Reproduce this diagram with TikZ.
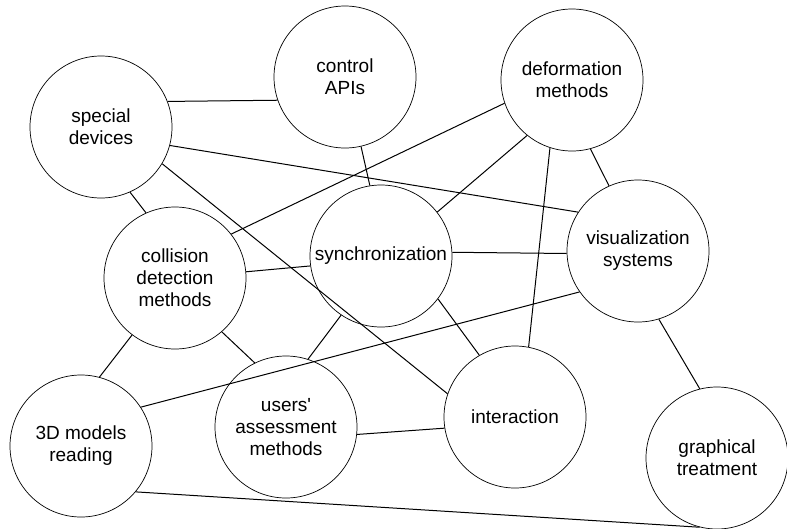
\documentclass[tikz,border=0pt]{standalone}
\usepackage{fontspec}
\setmainfont{Liberation Sans}
\usetikzlibrary{positioning}
\tikzset{>=stealth}
\tikzset{topic/.style={draw,circle,line width=0.7pt,minimum size=142pt,inner sep=0pt,align=center,font=\fontsize{19}{22}\selectfont}}
\tikzset{link/.style={line width=1pt}}

\begin{document}
\begin{tikzpicture}[x=1pt,y=-1pt]
\useasboundingbox (0,0) rectangle (787,528);
% Place the topics
\node[topic] (sd) at (101,127) {special\\devices};
\node[topic] (api) at (345,77) {control\\APIs};
\node[topic] (def) at (572,80) {deformation\\methods};
\node[topic] (vis) at (638,251) {visualization\\systems};
\node[topic] (sync) at (381,256) {synchronization};
\node[topic] (coll) at (175,278) {collision\\detection\\methods};
\node[topic] (users) at (286,427) {users\textquotesingle\\assessment\\methods};
\node[topic] (models) at (81,446) {3D models\\reading};
\node[topic] (inter) at (515,417) {interaction};
\node[topic] (graph) at (717,458) {graphical\\treatment};

% Links from special devices
\draw[link] (sd.21) -- (api.199);
\draw[link] (sd.-15) -- (vis.147);
\draw[link] (sd.-31) -- (inter.161);
\draw[link] (sd.-66) -- (coll.114);

% Links from control APIs and deformation methods
\draw[link] (api.-77) -- (sync.99);
\draw[link] (def.199) -- (coll.38);
\draw[link] (def.231) -- (sync.38);
\draw[link] (def.252) -- (inter.79);
\draw[link] (def.-75) -- (vis.114);

% Links around synchronization
\draw[link] (coll.5) -- (sync.188);
\draw[link] (sync.3) -- (vis.182);
\draw[link] (sync.236) -- (users.72);
\draw[link] (sync.-37) -- (inter.120);

% Links from visualization systems
\draw[link] (vis.215) -- (models.33);
\draw[link] (vis.-73) -- (graph.104);

% Links in the lower row
\draw[link] (coll.233) -- (models.75);
\draw[link] (coll.-49) -- (users.116);
\draw[link] (users.-6) -- (inter.189);
\draw[link] (models.-40) -- (graph.256);
\end{tikzpicture}
\end{document}
